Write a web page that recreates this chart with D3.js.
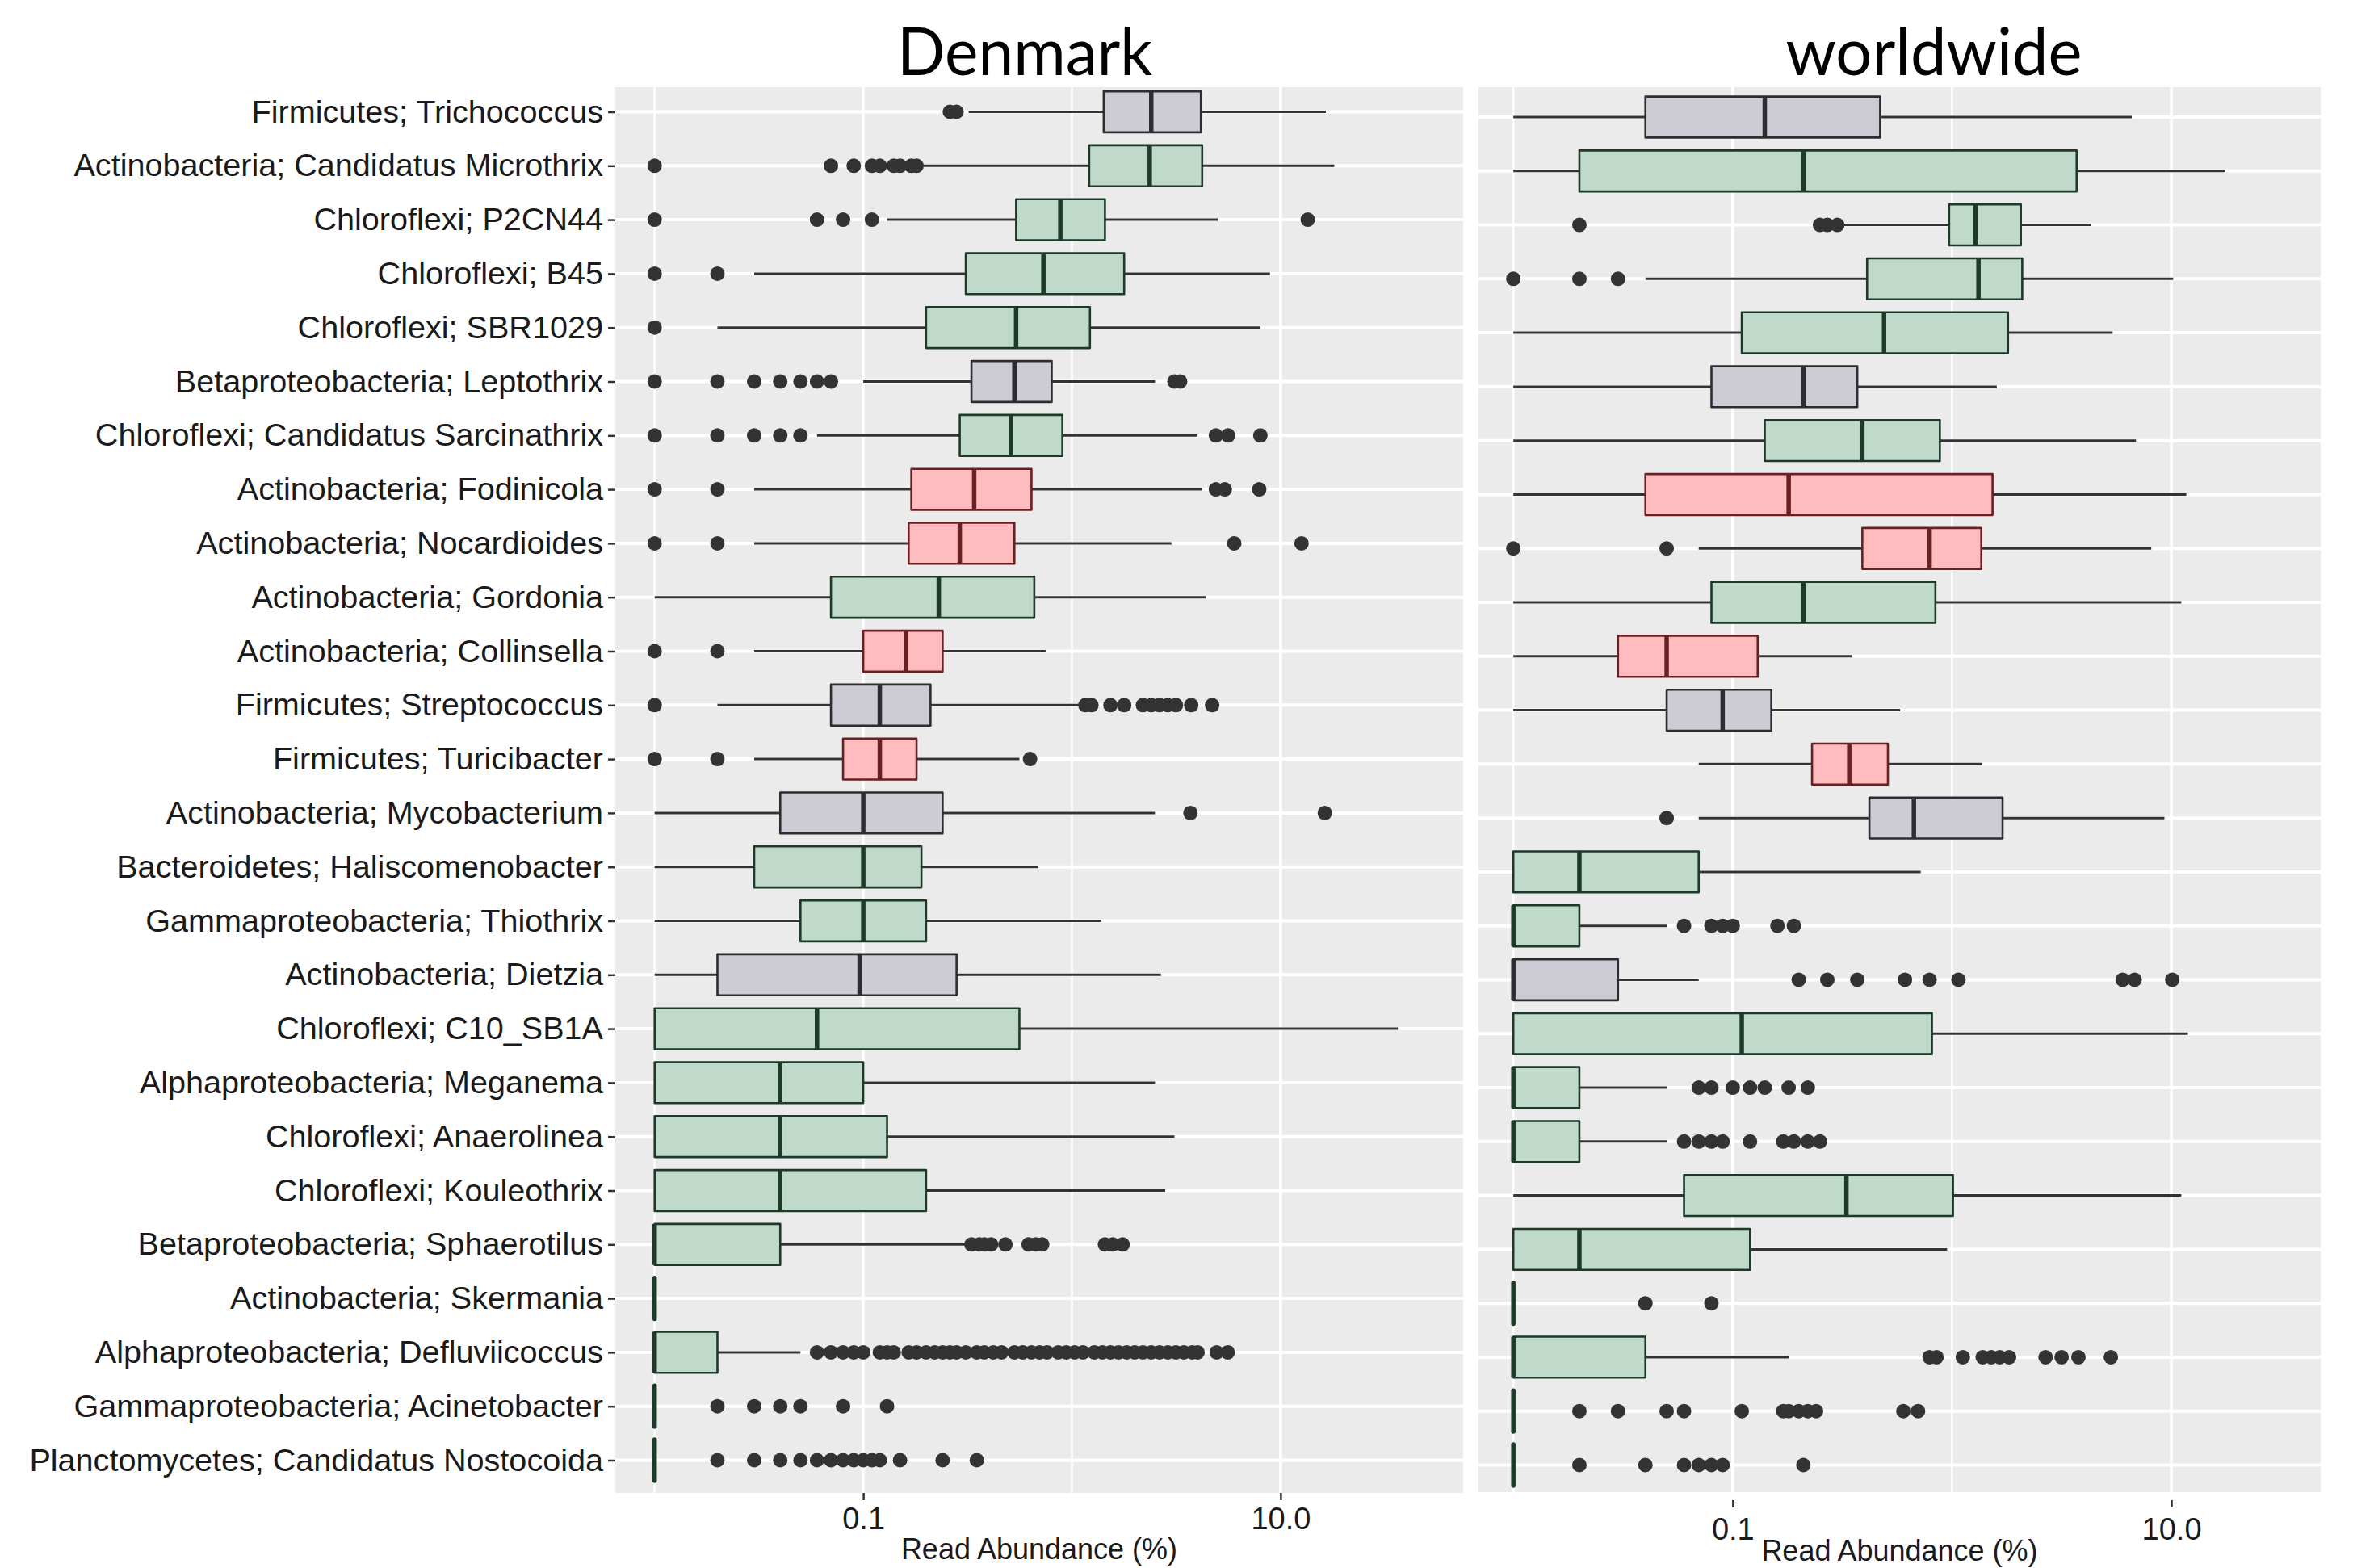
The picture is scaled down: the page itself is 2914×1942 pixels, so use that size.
<!DOCTYPE html>
<html>
<head>
<meta charset="utf-8">
<script src="https://cdnjs.cloudflare.com/ajax/libs/d3/7.8.5/d3.min.js"></script>
<style>
    body { margin: 0; background: #ffffff; }
    text { font-family: "Liberation Sans", Arial, sans-serif; }
</style>
</head>
<body>
<div id="chart"></div>
<script>
var taxa = [
    "Firmicutes; Trichococcus",
    "Actinobacteria; Candidatus Microthrix",
    "Chloroflexi; P2CN44",
    "Chloroflexi; B45",
    "Chloroflexi; SBR1029",
    "Betaproteobacteria; Leptothrix",
    "Chloroflexi; Candidatus Sarcinathrix",
    "Actinobacteria; Fodinicola",
    "Actinobacteria; Nocardioides",
    "Actinobacteria; Gordonia",
    "Actinobacteria; Collinsella",
    "Firmicutes; Streptococcus",
    "Firmicutes; Turicibacter",
    "Actinobacteria; Mycobacterium",
    "Bacteroidetes; Haliscomenobacter",
    "Gammaproteobacteria; Thiothrix",
    "Actinobacteria; Dietzia",
    "Chloroflexi; C10_SB1A",
    "Alphaproteobacteria; Meganema",
    "Chloroflexi; Anaerolinea",
    "Chloroflexi; Kouleothrix",
    "Betaproteobacteria; Sphaerotilus",
    "Actinobacteria; Skermania",
    "Alphaproteobacteria; Defluviicoccus",
    "Gammaproteobacteria; Acinetobacter",
    "Planctomycetes; Candidatus Nostocoida"
];

var taxaGroup = [
    "gray", "green", "green", "green", "green", "gray", "green", "pink", "pink",
    "green", "pink", "gray", "pink", "gray", "green", "green", "gray", "green",
    "green", "green", "green", "green", "green", "green", "green", "green"
];

// [lower whisker, Q1, median, Q3, upper whisker] in read abundance (%)
var denmarkStats = [
    [0.32, 1.42, 2.4, 4.15, 16.5],
    [0.19, 1.21, 2.36, 4.21, 18.1],
    [0.13, 0.54, 0.88, 1.44, 5.0],
    [0.03, 0.31, 0.73, 1.78, 8.9],
    [0.02, 0.2, 0.54, 1.22, 8.0],
    [0.1, 0.33, 0.53, 0.8, 2.5],
    [0.06, 0.29, 0.51, 0.9, 4.0],
    [0.03, 0.17, 0.34, 0.64, 4.2],
    [0.03, 0.165, 0.29, 0.53, 3.0],
    [0.01, 0.07, 0.23, 0.66, 4.4],
    [0.03, 0.1, 0.16, 0.24, 0.75],
    [0.02, 0.07, 0.12, 0.21, 1.08],
    [0.03, 0.08, 0.12, 0.18, 0.56],
    [0.01, 0.04, 0.1, 0.24, 2.5],
    [0.01, 0.03, 0.1, 0.19, 0.69],
    [0.01, 0.05, 0.1, 0.2, 1.38],
    [0.01, 0.02, 0.096, 0.28, 2.67],
    [0.01, 0.01, 0.06, 0.56, 36.5],
    [0.01, 0.01, 0.04, 0.1, 2.5],
    [0.01, 0.01, 0.04, 0.13, 3.1],
    [0.01, 0.01, 0.04, 0.2, 2.8],
    [0.01, 0.01, 0.01, 0.04, 0.32],
    [0.01, 0.01, 0.01, 0.01, 0.01],
    [0.01, 0.01, 0.01, 0.02, 0.05],
    [0.01, 0.01, 0.01, 0.01, 0.01],
    [0.01, 0.01, 0.01, 0.01, 0.01]
];

var denmarkOutliers = [
    [0.26, 0.28],
    [0.01, 0.07, 0.09, 0.11, 0.12, 0.14, 0.15, 0.17, 0.18],
    [0.01, 0.06, 0.08, 0.11, 13.5],
    [0.01, 0.02],
    [0.01],
    [0.01, 0.02, 0.03, 0.04, 0.05, 0.06, 0.07, 3.1, 3.3],
    [0.01, 0.02, 0.03, 0.04, 0.05, 4.9, 5.6, 8.0],
    [0.01, 0.02, 4.9, 5.4, 7.9],
    [0.01, 0.02, 6.0, 12.6],
    [],
    [0.01, 0.02],
    [0.01, 1.16, 1.24, 1.53, 1.78, 2.19, 2.4, 2.63, 2.88, 3.15, 3.73, 4.7],
    [0.01, 0.02, 0.63],
    [3.7, 16.3],
    [],
    [],
    [],
    [],
    [],
    [],
    [],
    [0.33, 0.36, 0.38, 0.41, 0.48, 0.62, 0.67, 0.72, 1.44, 1.57, 1.75],
    [],
    [0.06, 0.07, 0.08, 0.09, 0.1, 0.12, 0.13, 0.14, 0.165, 0.18, 0.2, 0.22, 0.24,
     0.26, 0.28, 0.31, 0.35, 0.38, 0.42, 0.46, 0.53, 0.58, 0.64, 0.7, 0.76, 0.86,
     0.94, 1.03, 1.13, 1.28, 1.4, 1.53, 1.67, 1.83, 2.0, 2.19, 2.4, 2.63, 2.88,
     3.15, 3.44, 3.77, 4.0, 4.94, 5.58],
    [0.02, 0.03, 0.04, 0.05, 0.08, 0.13],
    [0.02, 0.03, 0.04, 0.05, 0.06, 0.07, 0.08, 0.09, 0.1, 0.11, 0.12, 0.15, 0.24, 0.35]
];

var worldStats = [
    [0.01, 0.04, 0.14, 0.47, 6.6],
    [0.01, 0.02, 0.21, 3.7, 17.6],
    [0.32, 0.97, 1.28, 2.06, 4.3],
    [0.04, 0.41, 1.32, 2.09, 10.2],
    [0.01, 0.11, 0.49, 1.8, 5.4],
    [0.01, 0.08, 0.21, 0.37, 1.6],
    [0.01, 0.14, 0.39, 0.88, 6.9],
    [0.01, 0.04, 0.18, 1.53, 11.7],
    [0.07, 0.39, 0.79, 1.36, 8.1],
    [0.01, 0.08, 0.21, 0.84, 11.1],
    [0.01, 0.03, 0.05, 0.13, 0.35],
    [0.01, 0.05, 0.09, 0.15, 0.58],
    [0.07, 0.23, 0.34, 0.51, 1.37],
    [0.07, 0.42, 0.67, 1.7, 9.3],
    [0.01, 0.01, 0.02, 0.07, 0.72],
    [0.01, 0.01, 0.01, 0.02, 0.05],
    [0.01, 0.01, 0.01, 0.03, 0.07],
    [0.01, 0.01, 0.11, 0.81, 11.9],
    [0.01, 0.01, 0.01, 0.02, 0.05],
    [0.01, 0.01, 0.01, 0.02, 0.05],
    [0.01, 0.06, 0.33, 1.01, 11.1],
    [0.01, 0.01, 0.02, 0.12, 0.95],
    [0.01, 0.01, 0.01, 0.01, 0.01],
    [0.01, 0.01, 0.01, 0.04, 0.18],
    [0.01, 0.01, 0.01, 0.01, 0.01],
    [0.01, 0.01, 0.01, 0.01, 0.01]
];

var worldOutliers = [
    [],
    [],
    [0.02, 0.25, 0.27, 0.3],
    [0.01, 0.02, 0.03],
    [],
    [],
    [],
    [],
    [0.01, 0.05],
    [],
    [],
    [],
    [],
    [0.05],
    [],
    [0.06, 0.08, 0.09, 0.1, 0.16, 0.19],
    [0.2, 0.27, 0.37, 0.61, 0.79, 1.07, 6.0, 6.8, 10.1],
    [],
    [0.07, 0.08, 0.1, 0.12, 0.14, 0.18, 0.22],
    [0.06, 0.07, 0.08, 0.09, 0.12, 0.17, 0.19, 0.22, 0.25],
    [],
    [],
    [0.04, 0.08],
    [0.79, 0.85, 1.12, 1.38, 1.51, 1.65, 1.82, 2.67, 3.16, 3.77, 5.3],
    [0.02, 0.03, 0.05, 0.06, 0.11, 0.17, 0.18, 0.2, 0.22, 0.24, 0.6, 0.7],
    [0.02, 0.04, 0.06, 0.07, 0.08, 0.09, 0.21]
];

var xMajor = [0.1, 10];
var xMinor = [0.01, 1, 100];
var xTitle = "Read Abundance (%)";

var fills = { green: "#bfd9ca", pink: "#ffbcbe", gray: "#cdcbd3" };
var strokes = { green: "#1d3a28", pink: "#6a1f22", gray: "#2d2c33" };

var W = 2914, H = 1942;

var svg = d3.select("#chart").append("svg")
    .attr("width", W)
    .attr("height", H);

var panels = [
    {
        title: "Denmark", titleX: 1269, titleLen: 316,
        stats: denmarkStats, outliers: denmarkOutliers,
        left: 762, right: 1812, top: 108, bottom: 1849,
        rowFirst: 138.5, rowLast: 1808.5,
        domain: [0.006479, 75.0],
        axisY: 1849, tickPad: 9, axisTitleY: 1931,
        yLabels: true
    },
    {
        title: "worldwide", titleX: 2395, titleLen: 367,
        stats: worldStats, outliers: worldOutliers,
        left: 1831, right: 2874, top: 108, bottom: 1848,
        rowFirst: 145, rowLast: 1814.5,
        domain: [0.006934, 47.97],
        axisY: 1858, tickPad: 13, axisTitleY: 1933,
        yLabels: false
    }
];

function drawPanel(p) {
    var g = svg.append("g").classed("panel", true);

    var x = d3.scaleLog().domain(p.domain).range([p.left, p.right]);
    var y = d3.scalePoint().domain(taxa).range([p.rowFirst, p.rowLast]);
    var bh = 0.76 * y.step();

    g.append("rect")
        .attr("x", p.left)
        .attr("y", p.top)
        .attr("width", p.right - p.left)
        .attr("height", p.bottom - p.top)
        .attr("fill", "#ebebeb");

    //grid
    g.selectAll(".grid-minor")
        .data(xMinor.filter(function (d) { return x(d) > p.left && x(d) < p.right; }))
        .enter().append("line")
        .attr("x1", function (d) { return x(d); })
        .attr("x2", function (d) { return x(d); })
        .attr("y1", p.top).attr("y2", p.bottom)
        .attr("stroke", "#ffffff").attr("stroke-width", 2.5);

    g.selectAll(".grid-major")
        .data(xMajor)
        .enter().append("line")
        .attr("x1", function (d) { return x(d); })
        .attr("x2", function (d) { return x(d); })
        .attr("y1", p.top).attr("y2", p.bottom)
        .attr("stroke", "#ffffff").attr("stroke-width", 3.5);

    g.selectAll(".grid-row")
        .data(taxa)
        .enter().append("line")
        .attr("x1", p.left).attr("x2", p.right)
        .attr("y1", function (d) { return y(d); })
        .attr("y2", function (d) { return y(d); })
        .attr("stroke", "#ffffff").attr("stroke-width", 4);

    var rows = g.selectAll(".row")
        .data(taxa)
        .enter().append("g")
        .classed("row", true);

    //whiskers
    rows.append("line")
        .attr("x1", function (d, i) { return x(p.stats[i][0]); })
        .attr("x2", function (d, i) { return x(p.stats[i][1]); })
        .attr("y1", function (d) { return y(d); })
        .attr("y2", function (d) { return y(d); })
        .attr("stroke", "#333333").attr("stroke-width", 3);

    rows.append("line")
        .attr("x1", function (d, i) { return x(p.stats[i][3]); })
        .attr("x2", function (d, i) { return x(p.stats[i][4]); })
        .attr("y1", function (d) { return y(d); })
        .attr("y2", function (d) { return y(d); })
        .attr("stroke", "#333333").attr("stroke-width", 3);

    //boxes (path so zero-width boxes still show)
    rows.append("path")
        .attr("d", function (d, i) {
            var x1 = x(p.stats[i][1]), x2 = x(p.stats[i][3]),
                y0 = y(d) - bh / 2, y1 = y(d) + bh / 2;
            return "M" + x1 + "," + y0 + "H" + x2 + "V" + y1 + "H" + x1 + "Z";
        })
        .attr("fill", function (d, i) { return fills[taxaGroup[i]]; })
        .attr("stroke", function (d, i) { return strokes[taxaGroup[i]]; })
        .attr("stroke-width", 2.6)
        .attr("stroke-linejoin", "round");

    rows.append("line")
        .attr("x1", function (d, i) { return x(p.stats[i][2]); })
        .attr("x2", function (d, i) { return x(p.stats[i][2]); })
        .attr("y1", function (d) { return y(d) - bh / 2; })
        .attr("y2", function (d) { return y(d) + bh / 2; })
        .attr("stroke", function (d, i) { return strokes[taxaGroup[i]]; })
        .attr("stroke-width", 5.5)
        .attr("stroke-linecap", function (d, i) {
            return p.stats[i][1] === p.stats[i][3] ? "round" : "butt";
        });

    //outliers
    rows.each(function (d, i) {
        d3.select(this).selectAll(".point")
            .data(p.outliers[i])
            .enter().append("circle")
            .classed("point", true)
            .attr("cx", function (v) { return x(v); })
            .attr("cy", y(d))
            .attr("r", 9)
            .attr("fill", "#333333");
    });

    //x axis
    var xAxis = d3.axisBottom(x)
        .tickValues(xMajor)
        .tickFormat(d3.format(".1f"))
        .tickSize(9)
        .tickPadding(p.tickPad);

    var ax = g.append("g")
        .attr("transform", "translate(0," + p.axisY + ")")
        .call(xAxis);
    ax.select(".domain").remove();
    ax.selectAll("line").attr("stroke", "#333333").attr("stroke-width", 2.5);
    ax.selectAll("text")
        .attr("fill", "#1a1a1a")
        .style("font-size", "38px")
        .style("font-family", "'Liberation Sans', Arial, sans-serif");

    g.append("text")
        .attr("x", (p.left + p.right) / 2)
        .attr("y", p.axisTitleY)
        .attr("text-anchor", "middle")
        .attr("fill", "#1a1a1a")
        .style("font-size", "36px")
        .text(xTitle);

    if (p.yLabels) {
        var yAxis = d3.axisLeft(y).tickSize(9).tickPadding(6);
        var ay = g.append("g")
            .attr("transform", "translate(" + p.left + ",0)")
            .call(yAxis);
        ay.select(".domain").remove();
        ay.selectAll("line").attr("stroke", "#333333").attr("stroke-width", 2.5);
        ay.selectAll("text")
            .attr("fill", "#1a1a1a")
            .style("font-size", "39.6px")
            .style("font-family", "'Liberation Sans', Arial, sans-serif");
    }

    //panel header
    svg.append("text")
        .attr("x", p.titleX)
        .attr("y", 93)
        .attr("text-anchor", "middle")
        .attr("textLength", p.titleLen)
        .attr("lengthAdjust", "spacingAndGlyphs")
        .style("font-family", "Lato, 'Open Sans', sans-serif")
        .style("font-size", "81px")
        .attr("fill", "#000000")
        .text(p.title);
}

panels.forEach(drawPanel);
</script>
</body>
</html>
